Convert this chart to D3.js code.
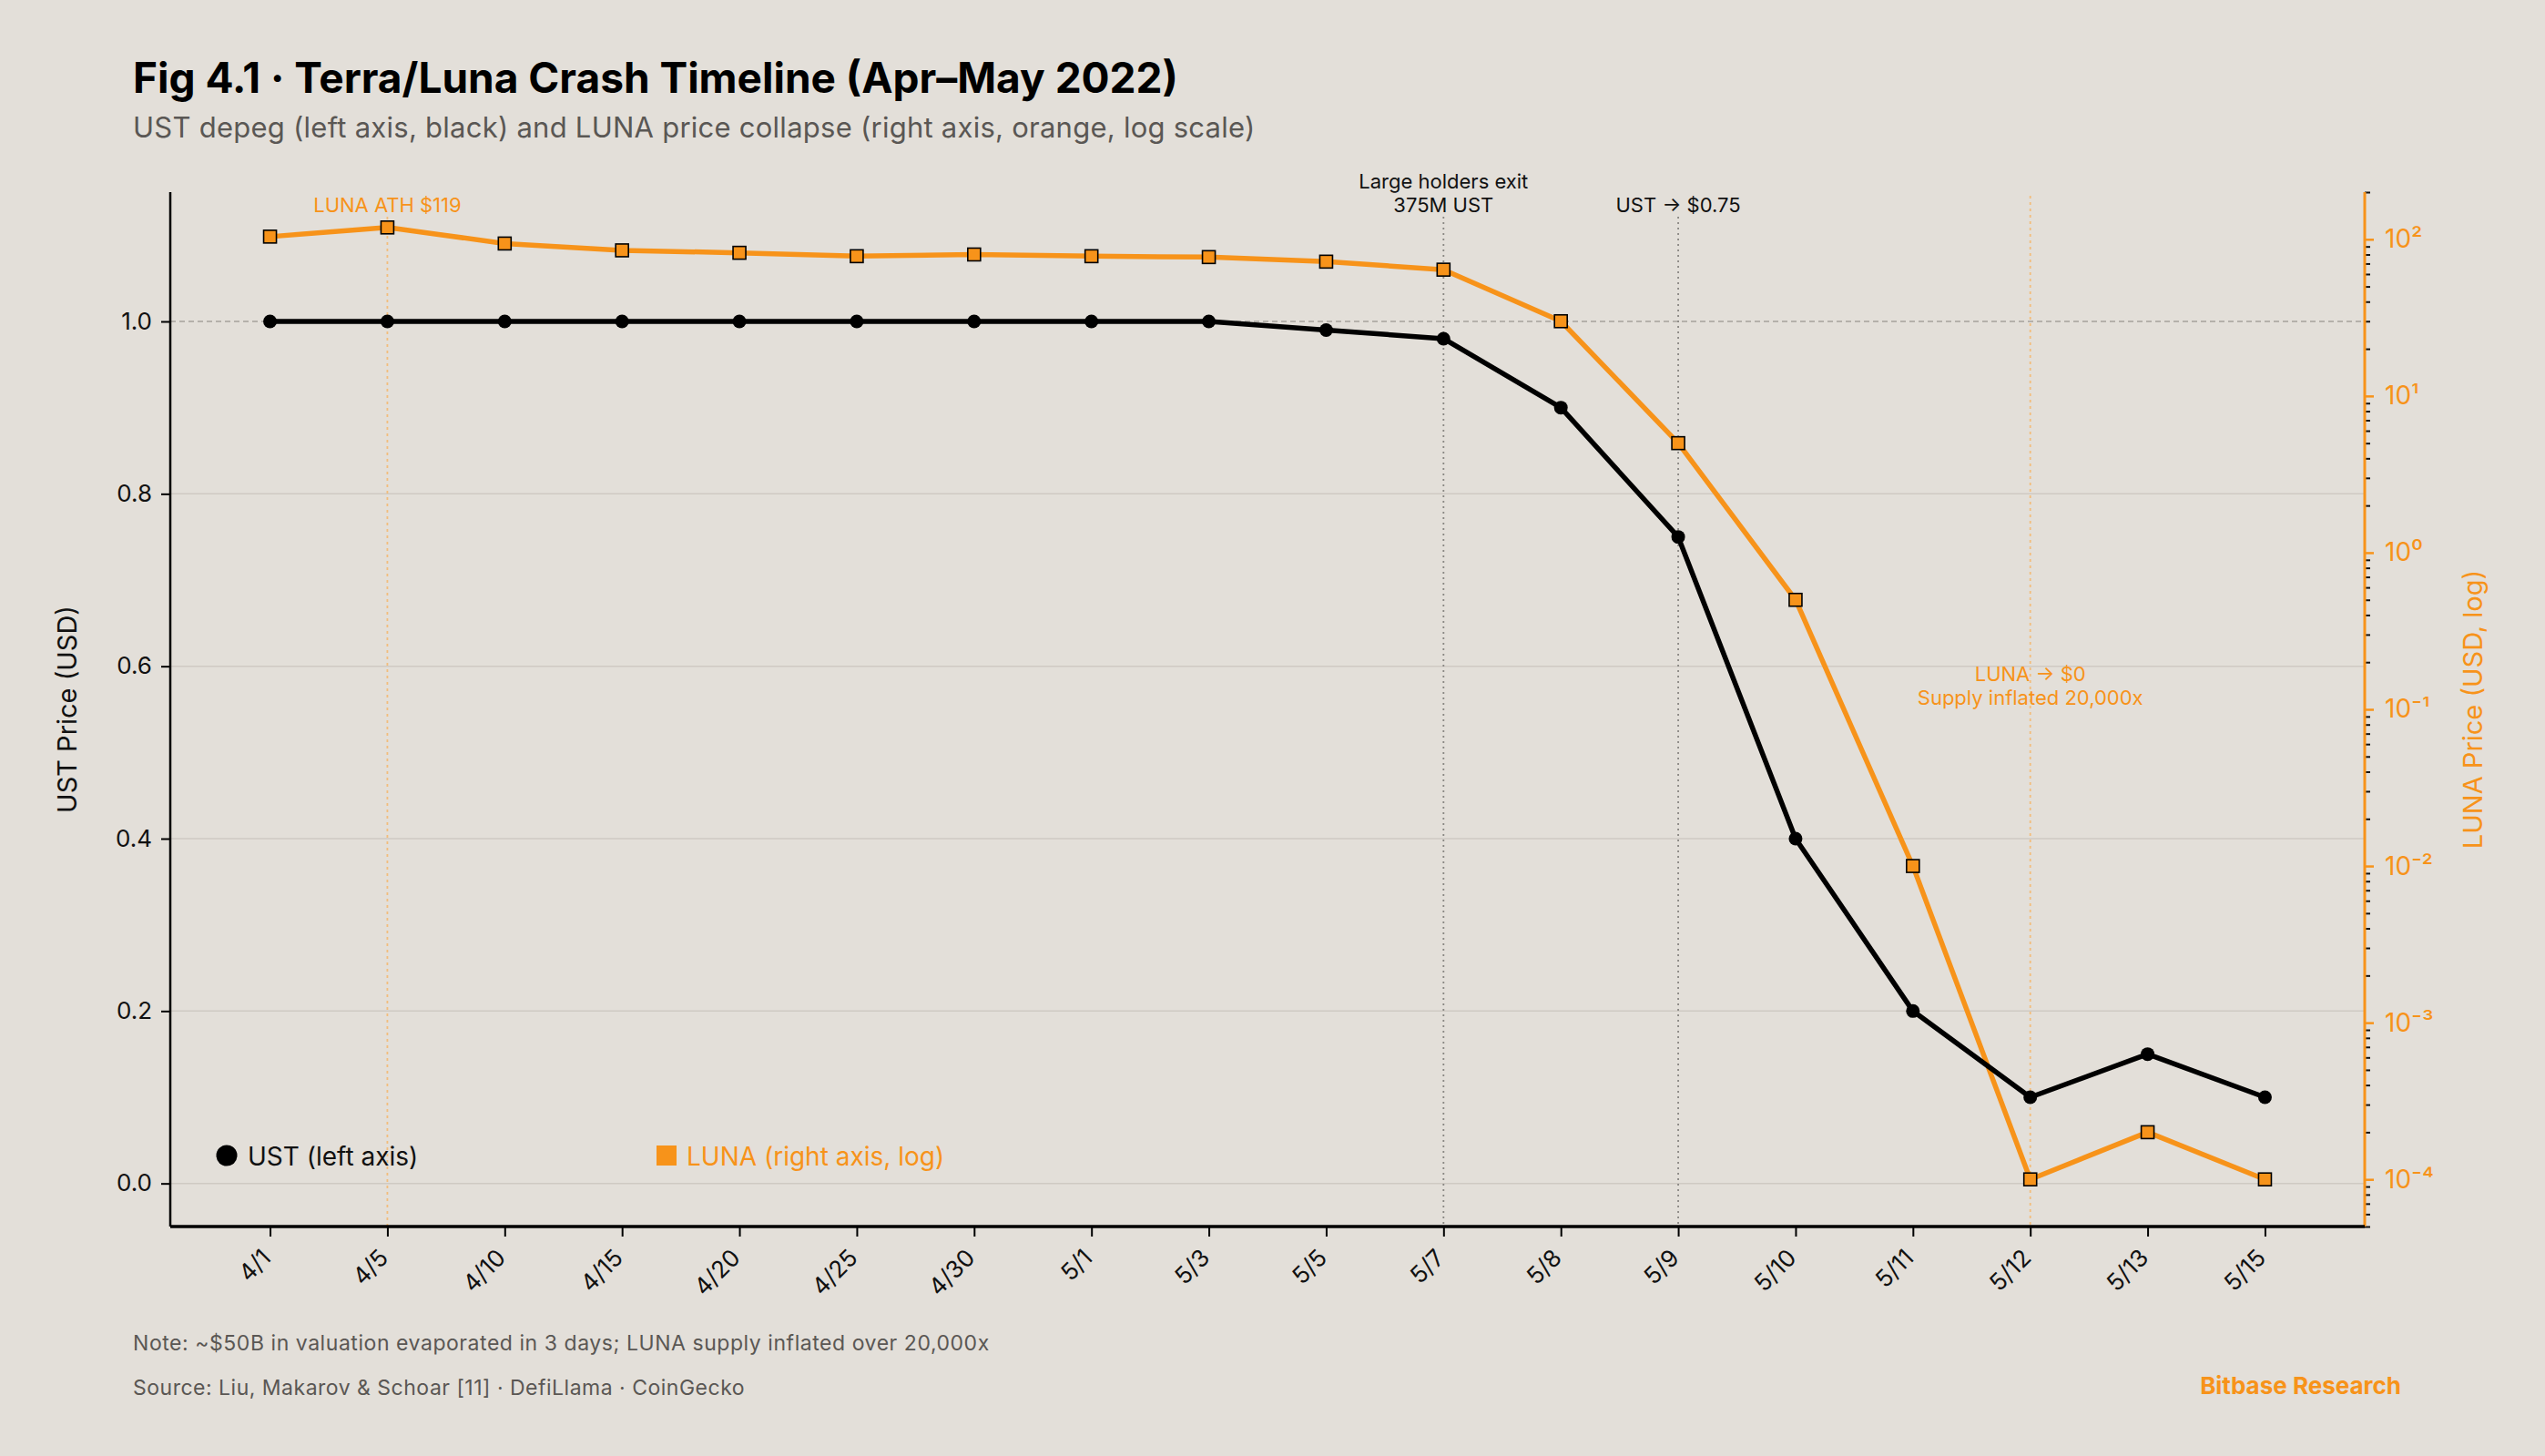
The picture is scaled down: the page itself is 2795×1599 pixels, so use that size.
<!DOCTYPE html>
<html>
<head>
<meta charset="utf-8">
<script src="https://cdn.jsdelivr.net/npm/d3@7"></script>
<style>
  html, body { margin: 0; padding: 0; background: #e3dfd9; }
  svg { display: block; font-family: Inter, "Open Sans", sans-serif; }
</style>
</head>
<body>
<div id="chart"></div>
<script>
// data
const dates = ['4/1', '4/5', '4/10', '4/15', '4/20', '4/25', '4/30', '5/1', '5/3',
    '5/5', '5/7', '5/8', '5/9', '5/10', '5/11', '5/12', '5/13', '5/15'];
const ustPrice = [1.0, 1.0, 1.0, 1.0, 1.0, 1.0, 1.0, 1.0, 1.0,
    0.99, 0.98, 0.90, 0.75, 0.40, 0.20, 0.10, 0.15, 0.10];
const lunaPrice = [104, 119, 94, 85, 82, 78, 80, 78, 77,
    72, 64, 30, 5, 0.5, 0.01, 0.0001, 0.0002, 0.0001];
const ustTicks = [0.0, 0.2, 0.4, 0.6, 0.8, 1.0];
const lunaDecades = [-4, -3, -2, -1, 0, 1, 2];

const events = [
    { date: '4/5', lines: ['LUNA ATH $119'], kind: 'luna', labelY: 233 },
    { date: '5/7', lines: ['Large holders exit', '375M UST'], kind: 'ust', labelY: 207 },
    { date: '5/9', lines: ['UST \u2192 $0.75'], kind: 'ust', labelY: 233 },
    { date: '5/12', lines: ['LUNA \u2192 $0', 'Supply inflated 20,000x'], kind: 'luna', labelY: 748 }
];

const W = 2795, H = 1599;
const bg = '#e3dfd9', orange = '#f7931a', ink = '#111';
const plot = { left: 187, right: 2597, top: 211, bottom: 1347 };

const svg = d3.select('#chart').append('svg')
    .attr('width', W)
    .attr('height', H)
    .style('background', bg);

// scales
const x = d3.scalePoint()
    .domain(dates)
    .range([plot.left, plot.right])
    .padding(0.85);

const yL = d3.scaleLinear()
    .domain([-0.05, 1.15])
    .range([plot.bottom, plot.top]);

const yR = d3.scaleLog()
    .domain([5e-5, 200])
    .range([plot.bottom, plot.top]);

// grid
svg.append('g')
    .selectAll('line')
    .data(ustTicks.filter(d => d < 1))
    .join('line')
    .attr('x1', plot.left).attr('x2', plot.right)
    .attr('y1', d => yL(d)).attr('y2', d => yL(d))
    .attr('stroke', '#cfcac3')
    .attr('stroke-width', 1.5);

// peg line at 1.0
svg.append('line')
    .attr('x1', plot.left).attr('x2', plot.right)
    .attr('y1', yL(1)).attr('y2', yL(1))
    .attr('stroke', '#b5b1ab')
    .attr('stroke-width', 1.8)
    .attr('stroke-dasharray', '6,4');

// event lines
svg.append('g')
    .selectAll('line')
    .data(events)
    .join('line')
    .attr('x1', d => x(d.date)).attr('x2', d => x(d.date))
    .attr('y1', d => d.kind === 'luna' && d.labelY > 400 ? plot.top + 4 : 238)
    .attr('y2', plot.bottom)
    .attr('stroke', d => d.kind === 'luna' ? '#f2bd7c' : '#8a8884')
    .attr('stroke-width', 1.8)
    .attr('stroke-dasharray', d => d.kind === 'luna' ? '3,4' : '2,4');

// event labels
svg.append('g')
    .selectAll('text')
    .data(events)
    .join('text')
    .attr('x', d => x(d.date))
    .attr('y', d => d.labelY)
    .attr('text-anchor', 'middle')
    .attr('font-size', 22)
    .attr('fill', d => d.kind === 'luna' ? orange : ink)
    .each(function(d) {
        d3.select(this).selectAll('tspan')
            .data(d.lines)
            .join('tspan')
            .attr('x', x(d.date))
            .attr('dy', (l, i) => i === 0 ? 0 : 26)
            .text(l => l);
    });

// LUNA line (right axis)
const lunaLine = d3.line()
    .x((d, i) => x(dates[i]))
    .y(d => yR(d));

svg.append('path')
    .datum(lunaPrice)
    .attr('d', lunaLine)
    .attr('fill', 'none')
    .attr('stroke', orange)
    .attr('stroke-width', 5.5)
    .attr('stroke-linejoin', 'round');

// UST line (left axis)
const ustLine = d3.line()
    .x((d, i) => x(dates[i]))
    .y(d => yL(d));

svg.append('path')
    .datum(ustPrice)
    .attr('d', ustLine)
    .attr('fill', 'none')
    .attr('stroke', '#000')
    .attr('stroke-width', 5.5)
    .attr('stroke-linejoin', 'round');

svg.append('g')
    .selectAll('circle')
    .data(ustPrice)
    .join('circle')
    .attr('cx', (d, i) => x(dates[i]))
    .attr('cy', d => yL(d))
    .attr('r', 7.5)
    .attr('fill', '#000');

const sq = 14;
svg.append('g')
    .selectAll('rect')
    .data(lunaPrice)
    .join('rect')
    .attr('x', (d, i) => x(dates[i]) - sq / 2)
    .attr('y', d => yR(d) - sq / 2)
    .attr('width', sq)
    .attr('height', sq)
    .attr('fill', orange)
    .attr('stroke', '#000')
    .attr('stroke-width', 1.6);

// left axis
const gL = svg.append('g')
    .attr('transform', `translate(${plot.left},0)`)
    .call(d3.axisLeft(yL).tickValues(ustTicks).tickFormat(d3.format('.1f')).tickSize(10).tickPadding(10));
gL.select('.domain').attr('stroke', '#000').attr('stroke-width', 2.5).attr('d', `M0,${plot.top}V${plot.bottom}`);
gL.selectAll('.tick line').attr('stroke', '#000').attr('stroke-width', 2);
gL.selectAll('.tick text').attr('font-size', 26).attr('fill', ink).attr('font-family', 'Inter, sans-serif');

// right axis (log)
const minor = [];
lunaDecades.concat([-5]).forEach(e => {
    for (let m = 2; m <= 9; m++) {
        const v = m * Math.pow(10, e);
        if (v >= 5e-5 && v <= 200) minor.push(v);
    }
});
const gRm = svg.append('g')
    .attr('transform', `translate(${plot.right},0)`)
    .call(d3.axisRight(yR).tickValues(minor).tickFormat('').tickSize(6));
gRm.select('.domain').remove();
gRm.selectAll('.tick line').attr('stroke', '#111').attr('stroke-width', 2);

const sup = { '-': '\u207B', '0': '\u2070', '1': '\u00B9', '2': '\u00B2', '3': '\u00B3', '4': '\u2074' };
const gR = svg.append('g')
    .attr('transform', `translate(${plot.right},0)`)
    .call(d3.axisRight(yR)
        .tickValues(lunaDecades.map(e => Math.pow(10, e)))
        .tickFormat(d => '10' + String(Math.round(Math.log10(d))).split('').map(c => sup[c]).join(''))
        .tickSize(10).tickPadding(12));
gR.select('.domain').attr('stroke', orange).attr('stroke-width', 3).attr('d', `M0,${plot.top}V${plot.bottom}`);
gR.selectAll('.tick line').attr('stroke', orange).attr('stroke-width', 2.5);
gR.selectAll('.tick text').attr('font-size', 28).attr('fill', orange).attr('font-family', 'Inter, sans-serif');

// bottom axis
const gB = svg.append('g')
    .attr('transform', `translate(0,${plot.bottom})`)
    .call(d3.axisBottom(x).tickSize(11).tickPadding(6));
gB.select('.domain').attr('stroke', '#000').attr('stroke-width', 3.5).attr('d', `M${plot.left},0H${plot.right}`);
gB.selectAll('.tick line').attr('stroke', '#000').attr('stroke-width', 2);
gB.selectAll('.tick text')
    .attr('font-size', 26)
    .attr('fill', ink)
    .attr('font-family', 'Inter, sans-serif')
    .attr('text-anchor', 'end')
    .attr('dy', null)
    .attr('y', null)
    .attr('transform', 'translate(2,36) rotate(-45)');

// axis titles
svg.append('text')
    .attr('transform', `translate(84,${(plot.top + plot.bottom) / 2}) rotate(-90)`)
    .attr('text-anchor', 'middle')
    .attr('font-size', 29)
    .attr('fill', ink)
    .text('UST Price (USD)');

svg.append('text')
    .attr('transform', `translate(2726,${(plot.top + plot.bottom) / 2}) rotate(-90)`)
    .attr('text-anchor', 'middle')
    .attr('font-size', 29)
    .attr('fill', orange)
    .text('LUNA Price (USD, log)');

// legend
const legend = svg.append('g');
legend.append('circle').attr('cx', 249).attr('cy', 1269).attr('r', 11.5).attr('fill', '#000');
legend.append('text').attr('x', 272).attr('y', 1280).attr('font-size', 28).attr('fill', ink).text('UST (left axis)');
legend.append('rect').attr('x', 721).attr('y', 1258).attr('width', 22).attr('height', 22).attr('fill', orange);
legend.append('text').attr('x', 754).attr('y', 1280).attr('font-size', 28).attr('fill', orange).text('LUNA (right axis, log)');

// titles
svg.append('text')
    .attr('x', 146).attr('y', 102)
    .attr('font-size', 46)
    .attr('font-weight', 700)
    .attr('fill', '#000')
    .text('Fig 4.1 \u00B7 Terra/Luna Crash Timeline (Apr\u2013May 2022)');

svg.append('text')
    .attr('x', 146).attr('y', 151)
    .attr('font-size', 31)
    .attr('letter-spacing', 0.25)
    .attr('fill', '#5a5754')
    .text('UST depeg (left axis, black) and LUNA price collapse (right axis, orange, log scale)');

// footer
svg.append('text')
    .attr('x', 146).attr('y', 1483)
    .attr('font-size', 23)
    .attr('letter-spacing', 0.55)
    .attr('fill', '#5a5754')
    .text('Note: ~$50B in valuation evaporated in 3 days; LUNA supply inflated over 20,000x');

svg.append('text')
    .attr('x', 146).attr('y', 1532)
    .attr('font-size', 23)
    .attr('letter-spacing', 0.5)
    .attr('fill', '#5a5754')
    .text('Source: Liu, Makarov & Schoar [11] \u00B7 DefiLlama \u00B7 CoinGecko');

svg.append('text')
    .attr('x', 2637).attr('y', 1531)
    .attr('text-anchor', 'end')
    .attr('font-size', 26)
    .attr('font-weight', 700)
    .attr('fill', orange)
    .text('Bitbase Research');
</script>
</body>
</html>
